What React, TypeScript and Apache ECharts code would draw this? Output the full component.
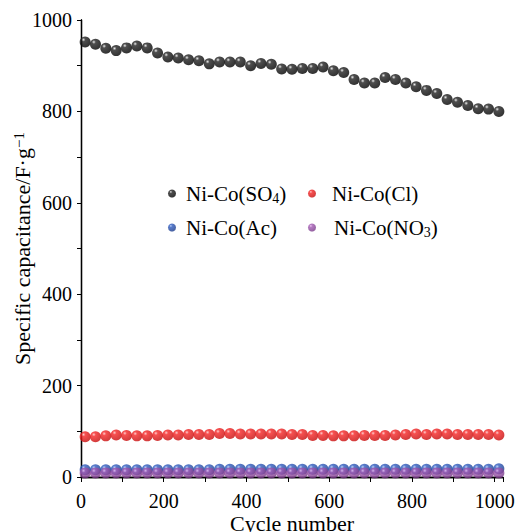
import React, { useEffect, useRef } from "react";
import * as echarts from "echarts";

const cycles: number[] = [10, 35, 60, 85, 110, 135, 160, 185, 210, 235, 260, 285, 310, 335, 360, 385, 410, 435, 460, 485, 510, 535, 560, 585, 610, 635, 660, 685, 710, 735, 760, 785, 810, 835, 860, 885, 910, 935, 960, 985, 1010];

const so4: number[] = [952, 947, 938, 933, 939, 943, 939, 928, 919, 917, 913, 911, 904, 908, 908, 908, 900, 905, 903, 893, 892, 894, 894, 897, 889, 885, 870, 862, 862, 874, 870, 862, 854, 846, 839, 826, 820, 813, 806, 805, 800];

const cl: number[] = [88, 88, 90, 92, 91, 90, 90, 91, 92, 92, 93, 93, 93, 95, 95, 94, 94, 94, 94, 94, 93, 93, 91, 91, 90, 90, 90, 91, 91, 91, 92, 93, 94, 93, 94, 94, 93, 93, 93, 93, 92];

const ac: number[] = [16, 16, 16, 16, 16, 16, 16, 16, 16, 16, 16, 16, 16, 17, 17, 17, 17, 17, 17, 17, 17, 17, 17, 17, 17, 17, 17, 17, 17, 17, 17, 17, 17, 17, 17, 17, 17, 17, 17, 17, 18];

const no3: number[] = [9, 9, 9, 9, 9, 9, 9, 9, 9, 9, 9, 9, 9, 9, 9, 9, 9, 9, 9, 9, 9, 9, 9, 9, 9, 9, 9, 9, 9, 9, 9, 9, 9, 9, 9, 9, 9, 9, 9, 9, 9];

const names = ["Ni-Co(SO4)", "Ni-Co(Cl)", "Ni-Co(Ac)", "Ni-Co(NO3)"];
const legendLabels: Record<string, string> = {
  "Ni-Co(SO4)": "Ni-Co(SO{sub|4})",
  "Ni-Co(Cl)": "Ni-Co(Cl)",
  "Ni-Co(Ac)": "Ni-Co(Ac)",
  "Ni-Co(NO3)": "Ni-Co(NO{sub|3})",
};

const FONT = "Liberation Serif";

function ball(light: string, mid: string, dark: string) {
  return new echarts.graphic.RadialGradient(0.35, 0.3, 0.7, [
    { offset: 0, color: light },
    { offset: 0.25, color: mid },
    { offset: 1, color: dark },
  ]);
}

export default function App() {
  const ref = useRef<HTMLDivElement>(null);
  useEffect(() => {
    if (!ref.current) return;
    const chart = echarts.init(ref.current, null, { renderer: "svg" });
    const colors = [
      ball("#e8e8e8", "#222222", "#000000"),
      ball("#ffc0c0", "#f42424", "#c80c0c"),
      ball("#b0c8f4", "#2f5cc0", "#1a3a8a"),
      ball("#f0c0f4", "#a45cb4", "#7a3a8a"),
    ];
    const datas = [so4, cl, ac, no3];
    const legendPos = [
      { left: 168, top: 183, pad: 5 },
      { left: 308, top: 183, pad: 11 },
      { left: 168, top: 217, pad: 5 },
      { left: 308, top: 217, pad: 13 },
    ];
    const textStyle = {
      fontFamily: FONT,
      fontSize: 20,
      color: "#000",
    };
    const rich = {
      sub: { fontFamily: FONT, fontSize: 14, color: "#000", verticalAlign: "bottom" as const, padding: [10, 0, 0, 0] },
      sup: { fontFamily: FONT, fontSize: 15, color: "#000", verticalAlign: "top" as const, padding: [0, 0, 8, 0] },
    };
    const axisLine = { show: true, lineStyle: { color: "#000", width: 1.3 } };
    const fmt = (v: number) => (v % 200 === 0 ? String(v) : "");
    chart.setOption({
      animation: false,
      backgroundColor: "#fff",
      grid: { left: 81, right: 12, top: 20, bottom: 55, containLabel: false, outerBoundsMode: "none" },
      legend: names.map((n, i) => ({
        data: [n],
        left: legendPos[i].left,
        top: legendPos[i].top,
        itemWidth: 8,
        itemHeight: 8,
        icon: "circle",
        padding: 0,
        formatter: (name: string) => legendLabels[name],
        textStyle: { ...textStyle, fontSize: 21, padding: [0, 0, 0, legendPos[i].pad], rich },
      })),
      xAxis: [
        {
          type: "value",
          min: 0,
          max: 1020,
          interval: 100,
          position: "bottom",
          name: "Cycle number",
          nameLocation: "middle",
          nameGap: 35,
          nameMoveOverlap: false,
          nameTextStyle: { ...textStyle, fontSize: 22, lineHeight: 22 },
          axisLine,
          axisTick: { show: true, inside: false, length: 5, lineStyle: { color: "#000" } },
          axisLabel: { ...textStyle, lineHeight: 20, margin: 14, formatter: fmt },
          splitLine: { show: false },
        },
        {
          type: "value",
          min: 0,
          max: 1020,
          interval: 100,
          position: "top",
          axisLine,
          axisTick: { show: true, inside: true, length: 4, lineStyle: { color: "#000" } },
          axisLabel: { show: false },
          splitLine: { show: false },
        },
      ],
      yAxis: [
        {
          type: "value",
          min: 0,
          max: 1000,
          interval: 100,
          position: "left",
          name: "Specific capacitance/F·g{sup|−1}",
          nameLocation: "middle",
          nameGap: 47,
          nameMoveOverlap: false,
          nameTextStyle: { ...textStyle, fontSize: 22, rich },
          axisLine,
          axisTick: { show: true, inside: false, length: 4, lineStyle: { color: "#000" } },
          axisLabel: { ...textStyle, margin: 9, formatter: fmt },
          splitLine: { show: false },
        },
        {
          type: "value",
          min: 0,
          max: 1000,
          interval: 100,
          position: "right",
          axisLine,
          axisTick: { show: true, inside: true, length: 4, lineStyle: { color: "#000" } },
          axisLabel: { show: false },
          splitLine: { show: false },
        },
      ],
      series: names.map((n, i) => ({
        name: n,
        type: "scatter",
        xAxisIndex: 0,
        yAxisIndex: 0,
        symbol: "circle",
        symbolSize: 11,
        z: 2 + i,
        itemStyle: { color: colors[i] },
        data: cycles.map((c, j) => [c, datas[i][j]]),
      })),
    });
    return () => chart.dispose();
  }, []);
  return (
    <div
      ref={ref}
      style={{ position: "absolute", left: 0, top: 0, width: 515, height: 532 }}
    />
  );
}
